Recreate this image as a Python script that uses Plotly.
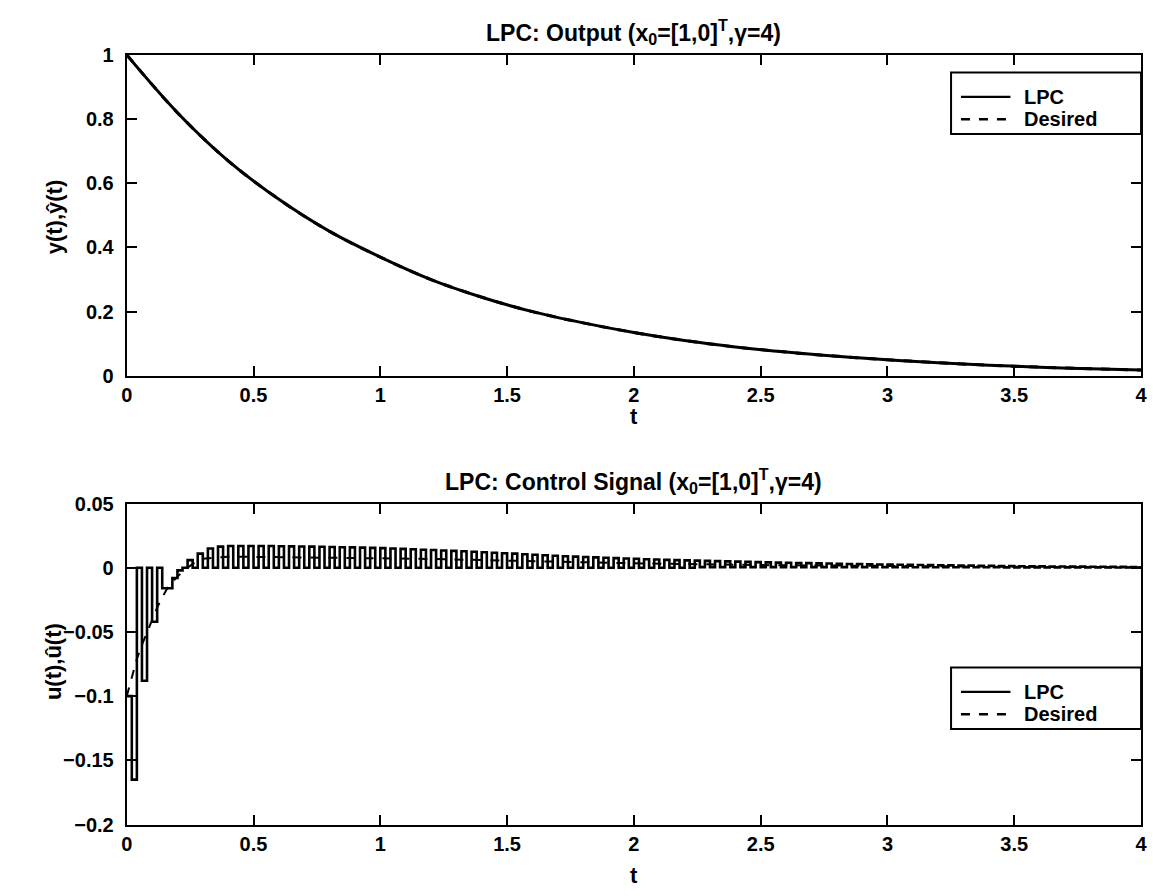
import plotly.graph_objects as go

# ---------------- data ----------------
# Top: output y(t) (LPC) and desired output
t_out = [0.0, 0.2, 0.4, 0.6, 0.8, 1.0, 1.2, 1.4, 1.6, 1.8, 2.0,
         2.2, 2.4, 2.6, 2.8, 3.0, 3.2, 3.4, 3.6, 3.8, 4.0]
y_lpc = [1.0, 0.82, 0.67, 0.55, 0.45, 0.37, 0.30, 0.245, 0.20, 0.165, 0.135,
         0.11, 0.09, 0.074, 0.061, 0.05, 0.041, 0.033, 0.027, 0.022, 0.018]
y_des = [1.0, 0.82, 0.67, 0.55, 0.45, 0.37, 0.30, 0.245, 0.20, 0.165, 0.135,
         0.11, 0.09, 0.074, 0.061, 0.05, 0.041, 0.033, 0.027, 0.022, 0.018]

# Bottom: control signal, sample period 0.02 s (zero-order hold)
Ts = 0.02
u_start = [-0.100, -0.165, 0.000, -0.088, 0.000, -0.042,
           0.000, -0.016, -0.016, -0.008, -0.002, 0.000]
# pulse heights from t = 0.24 (every 0.04 s)
u_high = [0.006, 0.011, 0.015, 0.0165, 0.017, 0.017, 0.017, 0.017, 0.017, 0.0168,
          0.0167, 0.0166, 0.0165, 0.0164, 0.0162, 0.016, 0.0159, 0.0157, 0.0155, 0.0153,
          0.015, 0.0147, 0.0144, 0.0141, 0.0138, 0.0135, 0.0132, 0.0129, 0.0125, 0.0121,
          0.0117, 0.0113, 0.011, 0.0106, 0.0102, 0.0098, 0.0094, 0.009, 0.0087, 0.0084,
          0.0081, 0.0078, 0.0075, 0.0072, 0.007, 0.0067, 0.0065, 0.0062, 0.006, 0.0058,
          0.0056, 0.0054, 0.0052, 0.005, 0.0048, 0.0046, 0.0044, 0.0042, 0.004, 0.0039,
          0.0037, 0.0036, 0.0034, 0.0033, 0.0031, 0.003, 0.0029, 0.0028, 0.0026, 0.0025,
          0.0024, 0.0023, 0.0022, 0.0021, 0.002, 0.0019, 0.0018, 0.0017, 0.0016, 0.0015,
          0.0014, 0.0013, 0.0012, 0.0012, 0.0011, 0.001, 0.001, 0.0009, 0.0009, 0.0008,
          0.0008, 0.0007, 0.0007, 0.0006]
# values between the pulses (t = 0.26, 0.30, ...)
u_low = [0.0, 0.0, 0.0, 0.0, 0.0, 0.0, 0.0, 0.0, 0.0, 0.0,
         0.0, 0.0, 0.0, 0.0, 0.0, 0.0, 0.0, 0.0, 0.0, 0.0,
         0.0, 0.0, 0.0, 0.0, 0.0, 0.0, 0.0, 0.0, 0.0, 0.0,
         0.0, 0.0, 0.0, 0.0, 0.0, 0.0, 0.0, 0.0, 0.0, 0.0,
         0.0, 0.0, 0.0, 0.0, 0.0, 0.0, 0.0, 0.0, 0.0, 0.0,
         0.0005, 0.0005, 0.0005, 0.0005, 0.0005, 0.0005, 0.0005, 0.0005, 0.0005, 0.0005,
         0.0005, 0.0005, 0.0005, 0.0005, 0.0005, 0.0005, 0.0005, 0.0005, 0.0005, 0.0005,
         0.0004, 0.0004, 0.0004, 0.0004, 0.0004, 0.0004, 0.0004, 0.0004, 0.0004, 0.0004,
         0.0003, 0.0003, 0.0003, 0.0003, 0.0003, 0.0003, 0.0003, 0.0003, 0.0003, 0.0003,
         0.0002, 0.0002, 0.0002, 0.0002]

t_udes = [0.0, 0.02, 0.04, 0.06, 0.08, 0.10, 0.12, 0.14, 0.16, 0.18, 0.20, 0.22,
          0.24, 0.26, 0.28, 0.30, 0.35, 0.4, 0.5, 0.6, 0.8, 1.0, 1.2, 1.4, 1.6,
          1.8, 2.0, 2.5, 3.0, 3.5, 4.0]
u_des = [-0.1, -0.085, -0.071, -0.06, -0.05, -0.04, -0.031, -0.023, -0.016, -0.011,
         -0.007, -0.003, 0.0, 0.003, 0.005, 0.007, 0.008, 0.0085, 0.0085, 0.0083,
         0.008, 0.0077, 0.0069, 0.006, 0.0051, 0.0042, 0.0035, 0.0021, 0.0013,
         0.0008, 0.0004]

x_ticks = [0, 0.5, 1, 1.5, 2, 2.5, 3, 3.5, 4]
x_ticktext = ["0", "0.5", "1", "1.5", "2", "2.5", "3", "3.5", "4"]
y1_ticks = [0, 0.2, 0.4, 0.6, 0.8, 1]
y1_ticktext = ["0", "0.2", "0.4", "0.6", "0.8", "1"]
y2_ticks = [-0.2, -0.15, -0.1, -0.05, 0, 0.05]
y2_ticktext = ["\u22120.2", "\u22120.15", "\u22120.1", "\u22120.05", "0", "0.05"]

# build the held control signal from the sample lists
u_samples = list(u_start)
for hi, lo in zip(u_high, u_low):
    u_samples.append(hi)
    u_samples.append(lo)
t_u = [k * Ts for k in range(len(u_samples))] + [len(u_samples) * Ts]
u_plot = u_samples + [u_samples[-1]]

# ---------------- layout helpers ----------------
W, H = 1153, 896
def px(x):
    return x / W
def py(y):
    return 1 - y / H

X0, X1 = 122, 1147          # plot box left / right (pixels)
T_TOP, T_BOT = 45, 374      # top axes box
B_TOP, B_BOT = 505, 834     # bottom axes box
XC = (X0 + X1) / 2

FONT = "Liberation Sans, Arial, Helvetica, sans-serif"

fig = go.Figure()
fig.add_trace(go.Scatter(x=t_out, y=y_lpc, mode="lines", line=dict(color="black", width=3, shape="spline"),
                         xaxis="x", yaxis="y", showlegend=False))
fig.add_trace(go.Scatter(x=t_out, y=y_des, mode="lines", line=dict(color="black", width=3, dash="dash", shape="spline"),
                         xaxis="x", yaxis="y", showlegend=False))
fig.add_trace(go.Scatter(x=t_u, y=u_plot, mode="lines", line=dict(color="black", width=2.6, shape="hv"),
                         xaxis="x2", yaxis="y2", showlegend=False))
fig.add_trace(go.Scatter(x=t_udes, y=u_des, mode="lines", line=dict(color="black", width=2.0, dash="dash"),
                         xaxis="x2", yaxis="y2", showlegend=False))

axis_common = dict(showline=True, mirror="allticks", linecolor="black", linewidth=2,
                   ticks="inside", ticklen=10, tickwidth=2, tickcolor="black",
                   showgrid=False, zeroline=False, ticklabeloverflow="allow",
                   tickfont=dict(family=FONT, size=20, color="black", weight="bold"))

fig.update_layout(
    width=W, height=H, margin=dict(l=0, r=0, t=0, b=0),
    paper_bgcolor="white", plot_bgcolor="white",
    xaxis=dict(domain=[px(X0), px(X1)], range=[0, 4], anchor="y",
               tickvals=x_ticks, ticktext=x_ticktext, **axis_common),
    yaxis=dict(domain=[py(T_BOT), py(T_TOP)], range=[0, 1], anchor="x",
               tickvals=y1_ticks, ticktext=y1_ticktext, ticklabelstandoff=7, **axis_common),
    xaxis2=dict(domain=[px(X0), px(X1)], range=[0, 4], anchor="y2",
                tickvals=x_ticks, ticktext=x_ticktext, **axis_common),
    yaxis2=dict(domain=[py(B_BOT), py(B_TOP)], range=[-0.2, 0.05], anchor="x2",
                tickvals=y2_ticks, ticktext=y2_ticktext, ticklabelstandoff=7, **axis_common),
)

title_font = dict(family=FONT, size=23, color="black", weight="bold")
label_font = dict(family=FONT, size=22, color="black", weight="bold")
leg_font = dict(family=FONT, size=20, color="black", weight="bold")
annotations = [
    dict(text="LPC: Output (x<sub>0</sub>=[1,0]<sup>T</sup>,\u03b3=4)", x=px(XC), y=py(22), font=title_font),
    dict(text="LPC: Control Signal (x<sub>0</sub>=[1,0]<sup>T</sup>,\u03b3=4)", x=px(XC), y=py(482), font=title_font),
    dict(text="t", x=px(XC), y=py(416), font=label_font),
    dict(text="t", x=px(XC), y=py(886), font=label_font),
    dict(text="y(t),\u0177(t)", x=px(49), y=py(211), textangle=-90, font=label_font),
    dict(text="u(t),\u00fb(t)", x=px(48), y=py(667), textangle=-90, font=label_font),
]
for a in annotations:
    a.update(xref="paper", yref="paper", showarrow=False, xanchor="center", yanchor="middle")

shapes = []
# manual legends (box, line samples, labels)
for top in (63, 673):
    shapes.append(dict(type="rect", xref="paper", yref="paper", x0=px(955), x1=px(X1),
                       y0=py(top + 63), y1=py(top), line=dict(color="black", width=2),
                       fillcolor="white", layer="above"))
    shapes.append(dict(type="line", xref="paper", yref="paper", x0=px(965), x1=px(1015),
                       y0=py(top + 25), y1=py(top + 25), line=dict(color="black", width=2.4), layer="above"))
    shapes.append(dict(type="line", xref="paper", yref="paper", x0=px(965), x1=px(1015),
                       y0=py(top + 48), y1=py(top + 48), line=dict(color="black", width=2.4, dash="dash"),
                       layer="above"))
    annotations.append(dict(text="LPC", x=px(1027), y=py(top + 25), xref="paper", yref="paper",
                            showarrow=False, xanchor="left", yanchor="middle", font=leg_font))
    annotations.append(dict(text="Desired", x=px(1027), y=py(top + 48), xref="paper", yref="paper",
                            showarrow=False, xanchor="left", yanchor="middle", font=leg_font))

fig.update_layout(annotations=annotations, shapes=shapes)
fig.write_html("out.html")
